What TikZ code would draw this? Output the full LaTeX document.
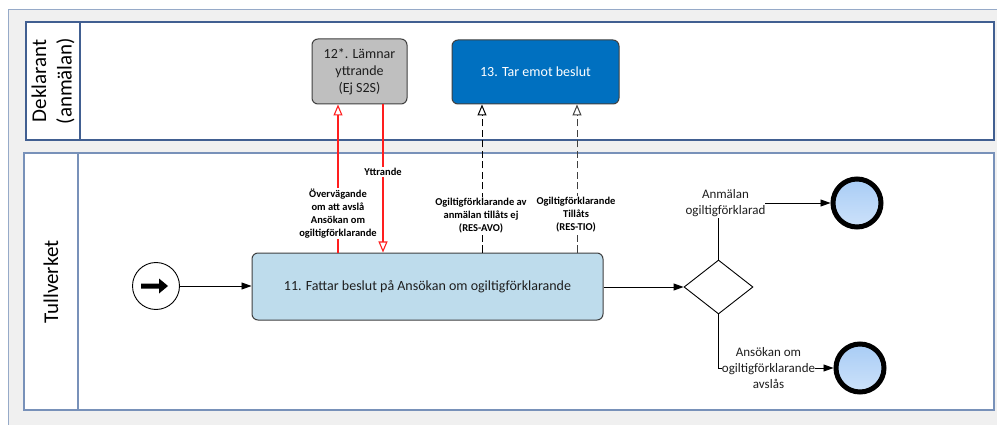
\documentclass[tikz,border=0pt]{standalone}
\usepackage{fontspec}
\setmainfont{Carlito}
\usetikzlibrary{arrows.meta,shapes.geometric,calc}
\definecolor{panelbg}{RGB}{240,240,240}
\definecolor{panelline}{RGB}{150,170,200}
\definecolor{laneA}{RGB}{65,95,145}
\definecolor{laneB}{RGB}{120,145,185}
\definecolor{boxline}{RGB}{64,64,64}
\definecolor{taskblue}{RGB}{190,220,236}
\definecolor{taskgray}{RGB}{191,191,191}
\definecolor{taskdark}{RGB}{0,112,192}
\definecolor{endtop}{RGB}{168,204,245}
\definecolor{endbot}{RGB}{205,226,250}
\definecolor{redline}{RGB}{255,30,30}
\definecolor{txt}{RGB}{30,30,30}
\tikzset{
  lanebox/.style={draw=#1, line width=1.3pt, fill=white},
  lanetext/.style={rotate=90, align=center, font=\fontsize{21}{25.5}\selectfont, text=black},
  taskbox/.style={draw=boxline, line width=1pt, rounded corners=6pt, align=center, inner sep=0pt},
  flowlbl/.style={fill=white, align=center, inner xsep=0.5pt, inner ysep=1pt, font=\bfseries\fontsize{10.5}{13}\selectfont, text=black},
  brlbl/.style={fill=white, align=center, inner xsep=0pt, inner ysep=1pt, font=\fontsize{13}{16}\selectfont, text=txt},
  redarrow/.style={draw=redline, line width=1.1pt, -{Triangle[length=11pt,width=9pt,fill=white]}},
  msgarrow/.style={draw=#1, line width=1pt, dash pattern=on 7pt off 3.5pt, -{Triangle[length=11pt,width=9pt,fill=white]}},
  seqarrow/.style={draw=black, line width=0.9pt, -{Triangle[length=10pt,width=7pt]}},
  endevent/.style={circle, draw=black, line width=5pt, minimum size=48pt, inner sep=0pt, top color=endtop, bottom color=endbot},
  startevent/.style={circle, draw=black, line width=0.9pt, minimum size=47pt, inner sep=0pt, fill=white},
}
\begin{document}
\begin{tikzpicture}[x=1pt,y=-1pt]
\useasboundingbox (0,0) rectangle (997,425);
% background panel
\fill[panelbg] (8,10) rectangle (997,425);
\draw[panelline, line width=1pt] (8,425) -- (8,10) -- (997,10);
% lanes
\draw[lanebox=laneA] (26,22) rectangle (994,140);
\draw[laneA, line width=1.3pt] (80,22) -- (80,140);
\draw[lanebox=laneB] (24,153) rectangle (994,410);
\draw[laneB, line width=1.3pt] (78,153) -- (78,410);
\node[lanetext] (laneDek) at (53,81) {Deklarant\\(anmälan)};
\node[lanetext] (laneTull) at (51,282) {Tullverket};
% tasks
\node[taskbox, fill=taskgray, minimum width=95pt, minimum height=65pt, font=\fontsize{14}{17}\selectfont, text=txt] (b12) at (359.5,71.5) {12*. Lämnar\\yttrande\\(Ej S2S)};
\node[taskbox, fill=taskdark, minimum width=167pt, minimum height=64pt, font=\fontsize{14}{17}\selectfont, text=white] (b13) at (535.5,72) {13. Tar emot beslut};
\node[taskbox, fill=taskblue, minimum width=351pt, minimum height=67pt, font=\fontsize{14}{17}\selectfont, text=txt] (b11) at (427.5,286.5) {11. Fattar beslut på Ansökan om ogiltigförklarande};
% gateway
\node[diamond, draw=black, line width=0.9pt, fill=white, minimum width=69pt, minimum height=54pt, inner sep=0pt, aspect=1.28] (dia) at (718.5,287) {};
% events
\node[startevent] (start) at (156,286) {};
\fill[black] ($(start.center)+(-15,-2.5)$) -- ++(18,0) -- ++(0,-5) -- ++(9,7.5) -- ++(-9,7.5) -- ++(0,-5) -- ++(-18,0) -- cycle;
\node[endevent] (endA) at (857,203) {};
\node[endevent] (endB) at (860,368) {};
% column coordinates
\coordinate (cR1) at (338,0);
\coordinate (cR2) at (383,0);
\coordinate (cD1) at (482,0);
\coordinate (cD2) at (577,0);
% message flows
\draw[redarrow] (cR1 |- b11.north) -- (cR1 |- b12.south);
\draw[redarrow] (cR2 |- b12.south) -- (cR2 |- b11.north);
\draw[msgarrow=black] (cD1 |- b11.north) -- (cD1 |- b13.south);
\draw[msgarrow={black!75}] (cD2 |- b11.north) -- (cD2 |- b13.south);
\node[flowlbl] (lOver) at (338,213.5) {Övervägande\\om att avslå\\Ansökan om\\ogiltigförklarande};
\node[flowlbl] (lYtt) at (383,172) {Yttrande};
\node[flowlbl] (lAvo) at (481,215.5) {Ogiltigförklarande av\\anmälan tillåts ej\\(RES-AVO)};
\node[flowlbl] (lTio) at (576,214.5) {Ogiltigförklarande\\Tillåts\\(RES-TIO)};
% sequence flows
\draw[seqarrow] (start.east) -- (start.east -| b11.west);
\draw[seqarrow] (b11.east |- dia.west) -- (dia.west);
\draw[seqarrow] (dia.north) |- (endA);
\draw[seqarrow] (dia.south) |- (endB);
\node[brlbl] (lAnm) at (725.5,203) {Anmälan\\ogiltigförklarad};
\node[brlbl] (lAvs) at (768.5,368) {Ansökan om\\ogiltigförklarande\\avslås};
\end{tikzpicture}
\end{document}
